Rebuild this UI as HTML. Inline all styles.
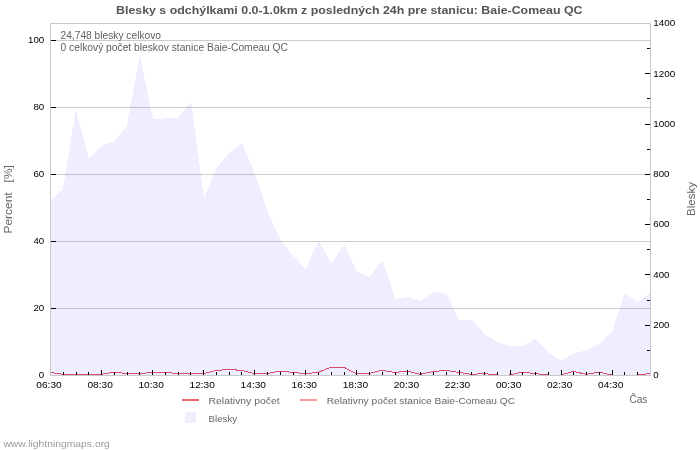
<!DOCTYPE html><html><head><meta charset="utf-8"><style>html,body{margin:0;padding:0;background:#fff;width:700px;height:450px;overflow:hidden}svg{display:block;will-change:transform}text{font-family:"Liberation Sans",sans-serif}</style></head><body>
<svg width="700" height="450" viewBox="0 0 700 450">
<rect x="0" y="0" width="700" height="450" fill="#fff"/>
<polygon points="50.00,375.50 50.50,201.20 63.27,189.60 76.03,112.00 88.80,160.00 101.56,146.60 114.33,141.80 127.10,126.60 139.86,58.00 152.63,119.20 165.39,119.00 178.16,118.10 190.93,103.00 203.69,200.40 216.46,169.30 229.22,153.30 241.99,144.20 254.76,174.90 267.52,212.60 280.29,240.60 293.05,256.60 305.82,270.00 318.59,241.50 331.35,264.10 344.12,245.60 356.88,272.30 369.65,277.40 382.41,261.30 395.18,300.10 407.95,297.30 420.71,301.30 433.48,292.20 446.24,294.60 459.01,321.00 471.78,320.30 484.54,334.60 497.31,342.60 510.07,346.60 522.84,346.60 535.61,339.30 548.37,353.00 561.14,361.40 573.90,353.60 586.67,350.60 599.44,344.60 612.20,332.60 624.97,294.00 637.73,302.40 650.50,293.40 650.00,375.50" fill="#eeeeff" stroke="#eeeeff" stroke-width="1" stroke-linejoin="round" shape-rendering="crispEdges"/>
<rect x="51" y="40" width="599" height="1" fill="rgba(0,0,0,0.2)"/>
<rect x="51" y="107" width="599" height="1" fill="rgba(0,0,0,0.2)"/>
<rect x="51" y="174" width="599" height="1" fill="rgba(0,0,0,0.2)"/>
<rect x="51" y="241" width="599" height="1" fill="rgba(0,0,0,0.2)"/>
<rect x="51" y="308" width="599" height="1" fill="rgba(0,0,0,0.2)"/>
<polyline points="50.00,372.40 62.77,374.30 75.53,374.30 88.30,374.30 101.06,374.30 113.83,372.20 126.60,373.50 139.36,373.60 152.13,372.40 164.89,372.40 177.66,373.50 190.43,373.60 203.19,373.60 215.96,370.60 228.72,369.40 241.49,370.40 254.26,373.60 267.02,373.60 279.79,371.10 292.55,372.40 305.32,373.60 318.09,372.40 330.85,367.10 343.62,367.10 356.38,373.60 369.15,373.60 381.91,370.30 394.68,372.40 407.45,371.20 420.21,374.30 432.98,371.60 445.74,370.30 458.51,372.40 471.28,374.30 484.04,373.60 496.81,375.00 509.57,375.00 522.34,372.10 535.11,373.60 547.87,375.00 560.64,375.00 573.40,371.40 586.17,374.30 598.94,372.20 611.70,375.00 624.47,375.00 637.23,375.00 650.00,373.60" fill="none" stroke="#d84c6e" stroke-width="1" shape-rendering="crispEdges"/>
<rect x="50" y="23" width="601" height="1" fill="#c8c8c8"/>
<rect x="50" y="375" width="601" height="1" fill="#c8c8c8"/>
<rect x="50" y="23" width="1" height="353" fill="#c8c8c8"/>
<rect x="650" y="23" width="1" height="353" fill="#c8c8c8"/>
<rect x="51" y="40" width="5" height="1" fill="#000"/>
<rect x="51" y="107" width="5" height="1" fill="#000"/>
<rect x="51" y="174" width="5" height="1" fill="#000"/>
<rect x="51" y="241" width="5" height="1" fill="#000"/>
<rect x="51" y="308" width="5" height="1" fill="#000"/>
<rect x="63" y="372" width="1" height="3" fill="#000"/>
<rect x="76" y="372" width="1" height="3" fill="#000"/>
<rect x="88" y="372" width="1" height="3" fill="#000"/>
<rect x="101" y="370" width="1" height="5" fill="#000"/>
<rect x="114" y="372" width="1" height="3" fill="#000"/>
<rect x="127" y="372" width="1" height="3" fill="#000"/>
<rect x="139" y="372" width="1" height="3" fill="#000"/>
<rect x="152" y="370" width="1" height="5" fill="#000"/>
<rect x="165" y="372" width="1" height="3" fill="#000"/>
<rect x="178" y="372" width="1" height="3" fill="#000"/>
<rect x="190" y="372" width="1" height="3" fill="#000"/>
<rect x="203" y="370" width="1" height="5" fill="#000"/>
<rect x="216" y="372" width="1" height="3" fill="#000"/>
<rect x="229" y="372" width="1" height="3" fill="#000"/>
<rect x="241" y="372" width="1" height="3" fill="#000"/>
<rect x="254" y="370" width="1" height="5" fill="#000"/>
<rect x="267" y="372" width="1" height="3" fill="#000"/>
<rect x="280" y="372" width="1" height="3" fill="#000"/>
<rect x="293" y="372" width="1" height="3" fill="#000"/>
<rect x="305" y="370" width="1" height="5" fill="#000"/>
<rect x="318" y="372" width="1" height="3" fill="#000"/>
<rect x="331" y="372" width="1" height="3" fill="#000"/>
<rect x="344" y="372" width="1" height="3" fill="#000"/>
<rect x="356" y="370" width="1" height="5" fill="#000"/>
<rect x="369" y="372" width="1" height="3" fill="#000"/>
<rect x="382" y="372" width="1" height="3" fill="#000"/>
<rect x="395" y="372" width="1" height="3" fill="#000"/>
<rect x="407" y="370" width="1" height="5" fill="#000"/>
<rect x="420" y="372" width="1" height="3" fill="#000"/>
<rect x="433" y="372" width="1" height="3" fill="#000"/>
<rect x="446" y="372" width="1" height="3" fill="#000"/>
<rect x="459" y="370" width="1" height="5" fill="#000"/>
<rect x="471" y="372" width="1" height="3" fill="#000"/>
<rect x="484" y="372" width="1" height="3" fill="#000"/>
<rect x="497" y="372" width="1" height="3" fill="#000"/>
<rect x="510" y="370" width="1" height="5" fill="#000"/>
<rect x="522" y="372" width="1" height="3" fill="#000"/>
<rect x="535" y="372" width="1" height="3" fill="#000"/>
<rect x="548" y="372" width="1" height="3" fill="#000"/>
<rect x="561" y="370" width="1" height="5" fill="#000"/>
<rect x="573" y="372" width="1" height="3" fill="#000"/>
<rect x="586" y="372" width="1" height="3" fill="#000"/>
<rect x="599" y="372" width="1" height="3" fill="#000"/>
<rect x="612" y="370" width="1" height="5" fill="#000"/>
<rect x="624" y="372" width="1" height="3" fill="#000"/>
<rect x="637" y="372" width="1" height="3" fill="#000"/>
<rect x="647" y="350" width="3" height="1" fill="#000"/>
<rect x="645" y="325" width="5" height="1" fill="#000"/>
<rect x="647" y="300" width="3" height="1" fill="#000"/>
<rect x="645" y="274" width="5" height="1" fill="#000"/>
<rect x="647" y="249" width="3" height="1" fill="#000"/>
<rect x="645" y="224" width="5" height="1" fill="#000"/>
<rect x="647" y="199" width="3" height="1" fill="#000"/>
<rect x="645" y="174" width="5" height="1" fill="#000"/>
<rect x="647" y="149" width="3" height="1" fill="#000"/>
<rect x="645" y="124" width="5" height="1" fill="#000"/>
<rect x="647" y="98" width="3" height="1" fill="#000"/>
<rect x="645" y="73" width="5" height="1" fill="#000"/>
<rect x="647" y="48" width="3" height="1" fill="#000"/>
<text x="116.0" y="13.8" font-size="11.6" fill="#555" text-anchor="start" font-weight="bold" textLength="466.5" lengthAdjust="spacingAndGlyphs">Blesky s odchýlkami 0.0-1.0km z posledných 24h pre stanicu: Baie-Comeau QC</text>
<text x="60.5" y="38.9" font-size="10.0" fill="#606060" text-anchor="start" font-weight="normal" textLength="100.5" lengthAdjust="spacingAndGlyphs">24,748 blesky celkovo</text>
<text x="60.5" y="50.7" font-size="10.0" fill="#606060" text-anchor="start" font-weight="normal" textLength="227.5" lengthAdjust="spacingAndGlyphs">0 celkový počet bleskov stanice Baie-Comeau QC</text>
<text x="44.2" y="42.9" font-size="9.7" fill="#000" text-anchor="end" font-weight="normal">100</text>
<text x="44.2" y="109.9" font-size="9.7" fill="#000" text-anchor="end" font-weight="normal">80</text>
<text x="44.2" y="176.9" font-size="9.7" fill="#000" text-anchor="end" font-weight="normal">60</text>
<text x="44.2" y="243.9" font-size="9.7" fill="#000" text-anchor="end" font-weight="normal">40</text>
<text x="44.2" y="310.9" font-size="9.7" fill="#000" text-anchor="end" font-weight="normal">20</text>
<text x="44.2" y="377.9" font-size="9.7" fill="#000" text-anchor="end" font-weight="normal">0</text>
<text x="49.0" y="387.8" font-size="9.8" fill="#000" text-anchor="middle" font-weight="normal" textLength="25.4" lengthAdjust="spacingAndGlyphs">06:30</text>
<text x="100.1" y="387.8" font-size="9.8" fill="#000" text-anchor="middle" font-weight="normal" textLength="25.4" lengthAdjust="spacingAndGlyphs">08:30</text>
<text x="151.1" y="387.8" font-size="9.8" fill="#000" text-anchor="middle" font-weight="normal" textLength="25.4" lengthAdjust="spacingAndGlyphs">10:30</text>
<text x="202.2" y="387.8" font-size="9.8" fill="#000" text-anchor="middle" font-weight="normal" textLength="25.4" lengthAdjust="spacingAndGlyphs">12:30</text>
<text x="253.3" y="387.8" font-size="9.8" fill="#000" text-anchor="middle" font-weight="normal" textLength="25.4" lengthAdjust="spacingAndGlyphs">14:30</text>
<text x="304.3" y="387.8" font-size="9.8" fill="#000" text-anchor="middle" font-weight="normal" textLength="25.4" lengthAdjust="spacingAndGlyphs">16:30</text>
<text x="355.4" y="387.8" font-size="9.8" fill="#000" text-anchor="middle" font-weight="normal" textLength="25.4" lengthAdjust="spacingAndGlyphs">18:30</text>
<text x="406.4" y="387.8" font-size="9.8" fill="#000" text-anchor="middle" font-weight="normal" textLength="25.4" lengthAdjust="spacingAndGlyphs">20:30</text>
<text x="457.5" y="387.8" font-size="9.8" fill="#000" text-anchor="middle" font-weight="normal" textLength="25.4" lengthAdjust="spacingAndGlyphs">22:30</text>
<text x="508.6" y="387.8" font-size="9.8" fill="#000" text-anchor="middle" font-weight="normal" textLength="25.4" lengthAdjust="spacingAndGlyphs">00:30</text>
<text x="559.6" y="387.8" font-size="9.8" fill="#000" text-anchor="middle" font-weight="normal" textLength="25.4" lengthAdjust="spacingAndGlyphs">02:30</text>
<text x="610.7" y="387.8" font-size="9.8" fill="#000" text-anchor="middle" font-weight="normal" textLength="25.4" lengthAdjust="spacingAndGlyphs">04:30</text>
<text x="653.3" y="378.2" font-size="9.7" fill="#000" text-anchor="start" font-weight="normal">0</text>
<text x="653.3" y="327.9" font-size="9.7" fill="#000" text-anchor="start" font-weight="normal">200</text>
<text x="653.3" y="277.6" font-size="9.7" fill="#000" text-anchor="start" font-weight="normal">400</text>
<text x="653.3" y="227.3" font-size="9.7" fill="#000" text-anchor="start" font-weight="normal">600</text>
<text x="653.3" y="177.1" font-size="9.7" fill="#000" text-anchor="start" font-weight="normal">800</text>
<text x="653.3" y="126.8" font-size="9.7" fill="#000" text-anchor="start" font-weight="normal" textLength="22.0" lengthAdjust="spacingAndGlyphs">1000</text>
<text x="653.3" y="76.5" font-size="9.7" fill="#000" text-anchor="start" font-weight="normal" textLength="22.0" lengthAdjust="spacingAndGlyphs">1200</text>
<text x="653.3" y="26.2" font-size="9.7" fill="#000" text-anchor="start" font-weight="normal" textLength="22.0" lengthAdjust="spacingAndGlyphs">1400</text>
<rect x="182" y="399" width="17" height="2" fill="#eb6464"/>
<text x="208.6" y="404.0" font-size="9.9" fill="#666" text-anchor="start" font-weight="normal" textLength="71.0" lengthAdjust="spacingAndGlyphs">Relativny počet</text>
<rect x="300" y="399" width="17" height="2" fill="#ff9898"/>
<text x="326.7" y="404.0" font-size="9.9" fill="#666" text-anchor="start" font-weight="normal" textLength="188.5" lengthAdjust="spacingAndGlyphs">Relativny počet stanice Baie-Comeau QC</text>
<rect x="185" y="412" width="11" height="11" fill="#eeeeff"/>
<text x="208.6" y="421.9" font-size="9.9" fill="#666" text-anchor="start" font-weight="normal" textLength="28.5" lengthAdjust="spacingAndGlyphs">Blesky</text>
<text x="629.4" y="402.7" font-size="10.0" fill="#666" text-anchor="start" font-weight="normal" textLength="18.0" lengthAdjust="spacingAndGlyphs">Čas</text>
<text x="3.4" y="447.2" font-size="9.8" fill="#999" text-anchor="start" font-weight="normal" textLength="106.5" lengthAdjust="spacingAndGlyphs">www.lightningmaps.org</text>
<text transform="translate(11.5,233.6) rotate(-90)" x="0" y="0" font-size="10.5" fill="#666" textLength="68.5" lengthAdjust="spacingAndGlyphs" xml:space="preserve">Percent   [%]</text>
<text transform="translate(695,216) rotate(-90)" x="0" y="0" font-size="10.2" fill="#666" textLength="34" lengthAdjust="spacingAndGlyphs">Blesky</text>
</svg></body></html>
